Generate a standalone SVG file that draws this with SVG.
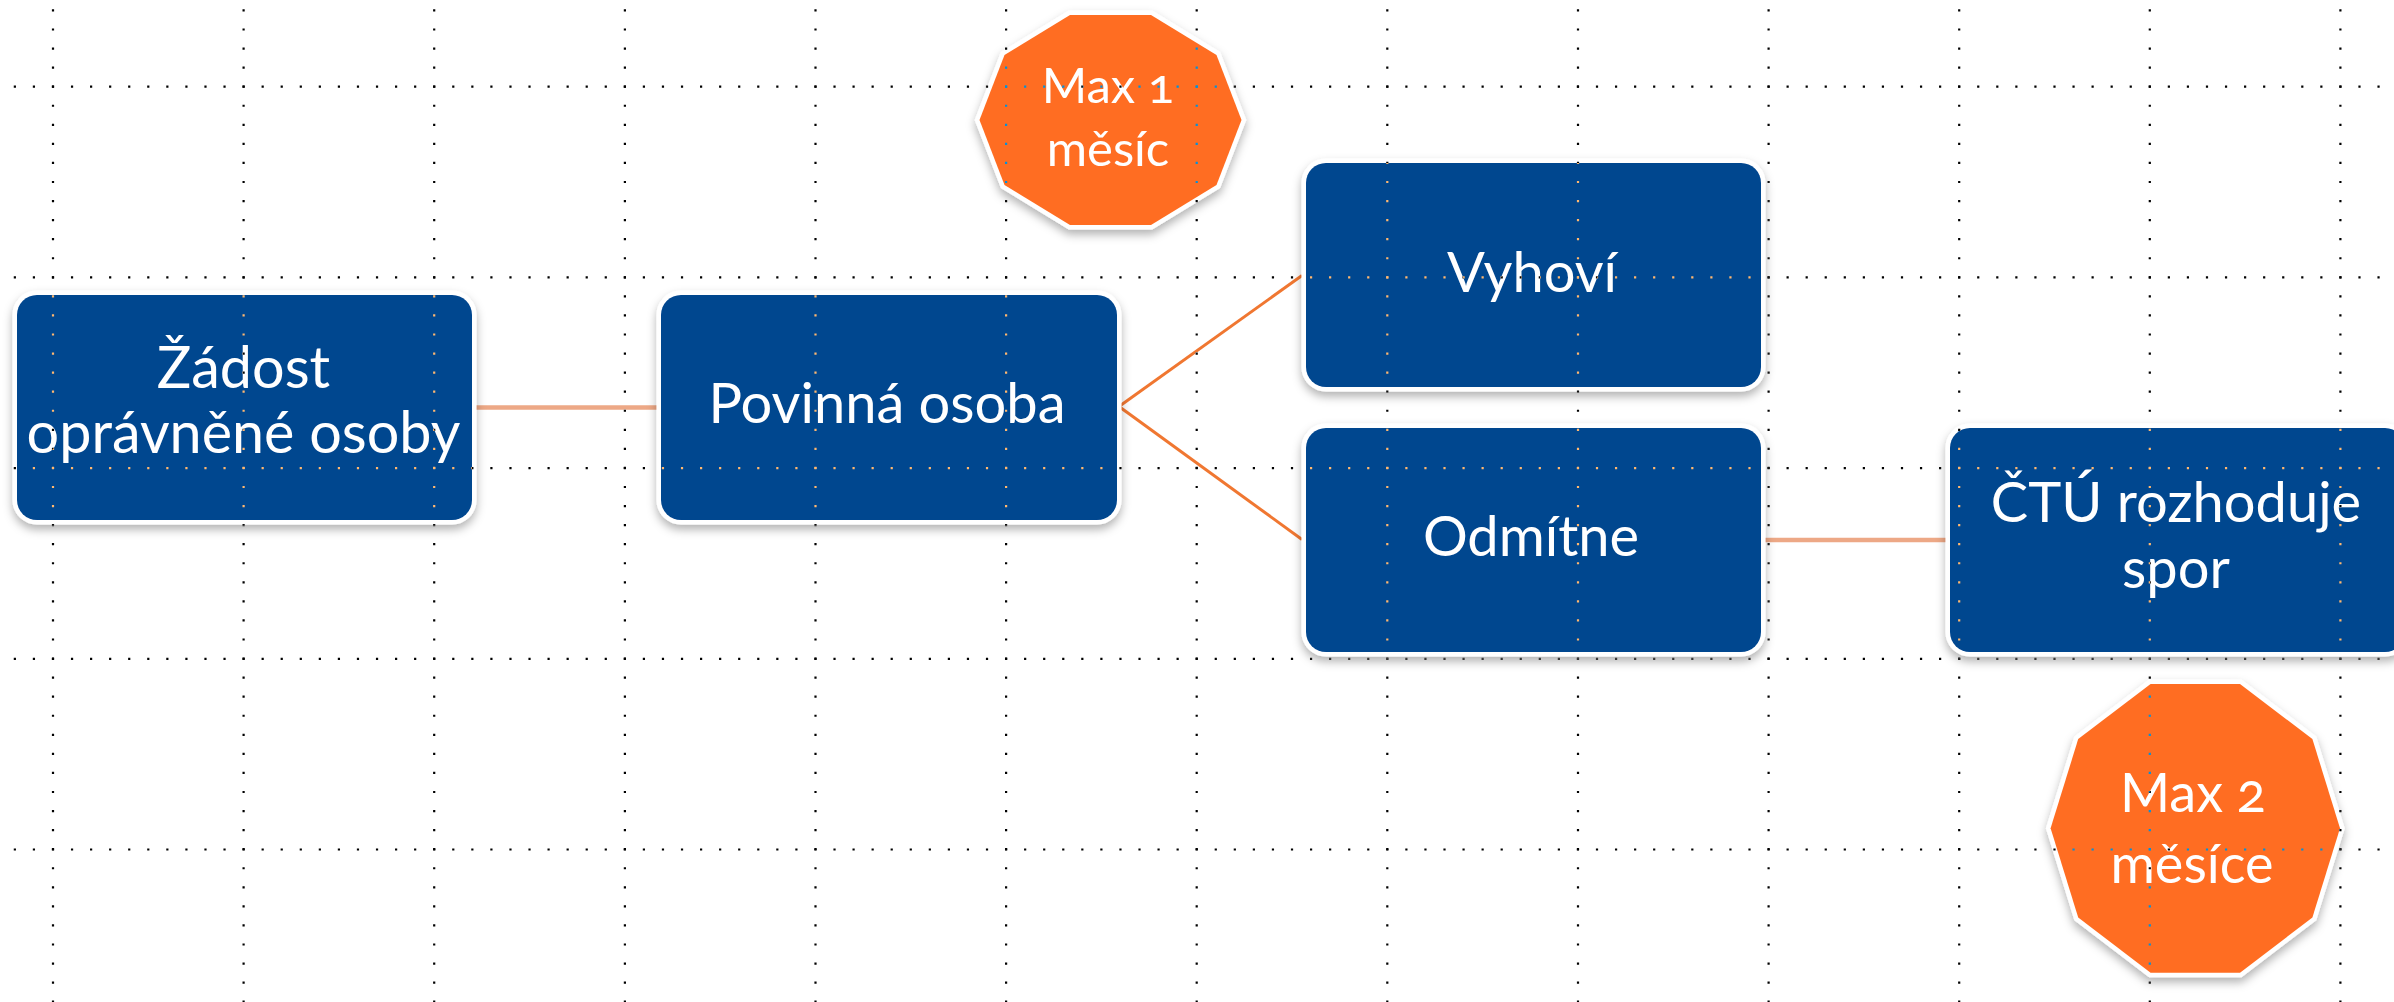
<svg xmlns="http://www.w3.org/2000/svg" width="2394" height="1002" viewBox="0 0 2394 1002">
<style>
.bg{fill:#ffffff}
.box{fill:#02468f;stroke:#ffffff;stroke-width:9;paint-order:stroke}
.oct{fill:#ff6d21;stroke:#ffffff;stroke-width:9;paint-order:stroke;stroke-linejoin:miter}
.lbl{font-family:Lato,"Open Sans","Noto Sans",sans-serif;fill:#ffffff;text-anchor:middle;font-variant-numeric:oldstyle-nums}
.cLight{stroke:#eda886;stroke-width:4.5;fill:none}
.cDark{stroke:#f07731;stroke-width:3;fill:none}
.gh,.gv{stroke:#ffffff;stroke-width:2.2}
.gh{stroke-dasharray:2.2 16.862}
.gv{stroke-dasharray:2.2 16.862}
#grid{mix-blend-mode:difference}
</style>
<defs>
<filter id="sh" x="-10%" y="-15%" width="120%" height="135%">
<feDropShadow dx="0" dy="5" stdDeviation="5" flood-color="#000" flood-opacity="0.3"/>
</filter>
</defs>
<rect class="bg" x="0" y="0" width="2394" height="1002"/>

<g id="connectors">
<line class="cLight" x1="474" y1="407.5" x2="658" y2="407.5"/>
<line class="cDark" x1="1119" y1="406.5" x2="1302" y2="275.5"/>
<line class="cDark" x1="1119" y1="406.5" x2="1302" y2="539.5"/>
<line class="cLight" x1="1763" y1="540" x2="1948" y2="540"/>
</g>

<g id="n-zadost" filter="url(#sh)">
<rect class="box" x="17" y="295" width="455" height="225" rx="20"/>
<text class="lbl" font-size="57.5" x="243.5" y="388">Žádost</text>
<text class="lbl" font-size="57.5" x="243.5" y="453">oprávněné osoby</text>
</g>

<g id="n-povinna" filter="url(#sh)">
<rect class="box" x="661" y="295" width="456" height="225" rx="20"/>
<text class="lbl" font-size="56" x="887" y="423">Povinná osoba</text>
</g>

<g id="n-vyhovi" filter="url(#sh)">
<rect class="box" x="1306" y="163" width="455" height="224" rx="20"/>
<text class="lbl" font-size="56" x="1532" y="292">Vyhoví</text>
</g>

<g id="n-odmitne" filter="url(#sh)">
<rect class="box" x="1306" y="428" width="455" height="224" rx="20"/>
<text class="lbl" font-size="56" x="1531" y="556">Odmítne</text>
</g>

<g id="n-ctu" filter="url(#sh)">
<rect class="box" x="1950" y="428" width="455" height="224" rx="20"/>
<text class="lbl" font-size="56" x="2176" y="522">ČTÚ rozhoduje</text>
<text class="lbl" font-size="56" x="2176" y="588">spor</text>
</g>

<g id="n-max1" filter="url(#sh)">
<polygon class="oct" points="1241.5,120 1216.5,184.9 1151,225 1070,225 1004.5,184.9 979.5,120 1004.5,55.1 1070,15 1151,15 1216.5,55.1"/>
<text class="lbl" font-size="49" x="1108" y="103">Max 1</text>
<text class="lbl" font-size="49" x="1108" y="166">měsíc</text>
</g>

<g id="n-max2" filter="url(#sh)">
<polygon class="oct" points="2340,828.3 2312.4,917.5 2240,972.7 2150.6,972.7 2078.2,917.5 2050.6,828.3 2078.2,739.1 2150.6,683.9 2240,683.9 2312.4,739.1"/>
<text class="lbl" font-size="54" x="2193" y="812">Max 2</text>
<text class="lbl" font-size="54" x="2192" y="883">měsíce</text>
</g>

<g id="grid">
<line class="gh" x1="-5.3" y1="86.7" x2="2394" y2="86.7"/>
<line class="gh" x1="-5.3" y1="277.4" x2="2394" y2="277.4"/>
<line class="gh" x1="-5.3" y1="468.1" x2="2394" y2="468.1"/>
<line class="gh" x1="-5.3" y1="658.8" x2="2394" y2="658.8"/>
<line class="gh" x1="-5.3" y1="849.5" x2="2394" y2="849.5"/>
<line class="gv" x1="53" y1="-9.7" x2="53" y2="1002"/>
<line class="gv" x1="243.6" y1="-9.7" x2="243.6" y2="1002"/>
<line class="gv" x1="434.2" y1="-9.7" x2="434.2" y2="1002"/>
<line class="gv" x1="624.9" y1="-9.7" x2="624.9" y2="1002"/>
<line class="gv" x1="815.5" y1="-9.7" x2="815.5" y2="1002"/>
<line class="gv" x1="1006.1" y1="-9.7" x2="1006.1" y2="1002"/>
<line class="gv" x1="1196.7" y1="-9.7" x2="1196.7" y2="1002"/>
<line class="gv" x1="1387.3" y1="-9.7" x2="1387.3" y2="1002"/>
<line class="gv" x1="1578" y1="-9.7" x2="1578" y2="1002"/>
<line class="gv" x1="1768.6" y1="-9.7" x2="1768.6" y2="1002"/>
<line class="gv" x1="1959.2" y1="-9.7" x2="1959.2" y2="1002"/>
<line class="gv" x1="2149.8" y1="-9.7" x2="2149.8" y2="1002"/>
<line class="gv" x1="2340.4" y1="-9.7" x2="2340.4" y2="1002"/>
</g>
</svg>
